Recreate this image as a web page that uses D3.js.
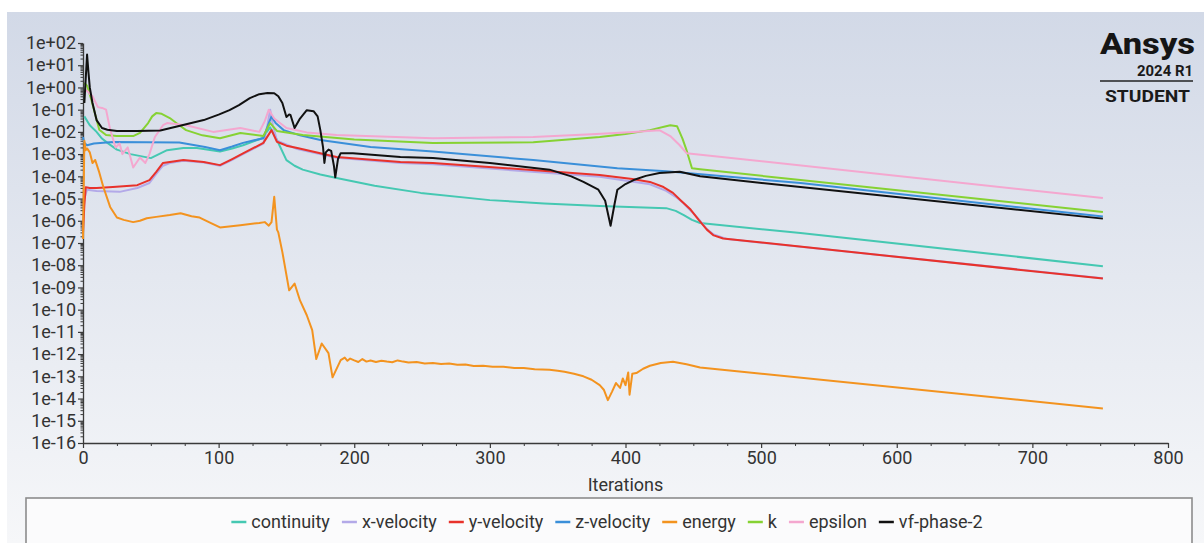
<!DOCTYPE html>
<html><head><meta charset="utf-8">
<script src="https://cdn.jsdelivr.net/npm/d3@7"></script>
<style>
html,body{margin:0;padding:0;background:#fff;}
svg{display:block;}
text{font-family:Roboto,"Noto Sans",sans-serif;}
</style></head>
<body>
<svg id="chart" width="1204" height="543"></svg>
<script>
// ---------------- DATA ----------------
const seriesNames = ["continuity","x-velocity","y-velocity","z-velocity","energy","k","epsilon","vf-phase-2"];
const seriesColors = ["#45c8b2","#b3a9e8","#e8322b","#3a8fd9","#f3931f","#86d233","#f4a7cf","#111111"];
const xTickValues = [0,100,200,300,400,500,600,700,800];
const yTickExponents = [2,1,0,-1,-2,-3,-4,-5,-6,-7,-8,-9,-10,-11,-12,-13,-14,-15,-16];

const continuity = [[1,5e-2],[5,2e-2],[10,1e-2],[14,5e-3],[18,3.2e-3],[25,1.6e-3],[35,1.0e-3],[50,6.6e-4],[56,1.0e-3],[62,1.5e-3],[74,1.9e-3],[84,1.9e-3],[101,1.3e-3],[110,1.8e-3],[118,2.5e-3],[132,5.2e-3],[138,1.6e-2],[143,4.3e-3],[150,5.4e-4],[156,3.0e-4],[162,2.0e-4],[175,1.2e-4],[187,8.5e-5],[215,3.8e-5],[249,1.8e-5],[300,8.5e-6],[340,6.0e-6],[381,4.6e-6],[430,3.7e-6],[437,2.8e-6],[443,1.8e-6],[449,1.1e-6],[455,7.9e-7],[529,2.8e-7],[752,9.1e-9]];

const xVelocity = [[1,1e-5],[3,2.5e-5],[10,2.2e-5],[27,2.0e-5],[40,3.0e-5],[49,5e-5],[54,1.3e-4],[59,3.0e-4],[64,4.0e-4],[74,5.0e-4],[89,4.2e-4],[101,3.0e-4],[110,5.5e-4],[118,1.0e-3],[133,3.0e-3],[136,2e-2],[138,0.1],[140,2e-2],[143,4e-3],[158,1.7e-3],[187,6.8e-4],[234,4.0e-4],[258,3.5e-4],[381,9.5e-5],[418,4.4e-5],[430,2.2e-5],[437,1.2e-5],[443,6e-6],[449,2.5e-6],[455,1.0e-6],[460,4.2e-7],[465,2.4e-7],[475,1.5e-7],[752,2.6e-9]];

const yVelocity = [[0,2.8e-7],[1,5e-6],[2,3.2e-5],[5,3e-5],[10,3.0e-5],[22,3.3e-5],[40,4.0e-5],[49,6.8e-5],[54,1.6e-4],[59,4.0e-4],[64,4.4e-4],[74,5.4e-4],[89,4.4e-4],[101,3.2e-4],[110,6.0e-4],[118,1.07e-3],[133,3.2e-3],[139,1.2e-2],[143,3.6e-3],[150,2.4e-3],[158,1.9e-3],[187,7.4e-4],[234,4.4e-4],[258,4.0e-4],[381,1.15e-4],[405,7.5e-5],[418,5.6e-5],[428,3.3e-5],[435,1.8e-5],[441,8e-6],[448,3.2e-6],[454,1.1e-6],[460,4.0e-7],[465,2.2e-7],[472,1.6e-7],[752,2.5e-9]];

const zVelocity = [[0,5.9e-3],[1,3.2e-3],[3,2.5e-3],[8,3.0e-3],[22,3.5e-3],[71,3.3e-3],[90,2.1e-3],[101,1.5e-3],[110,2.2e-3],[118,3.2e-3],[133,5.2e-3],[137,2.5e-2],[139,5e-2],[142,2.5e-2],[148,1.2e-2],[160,7.0e-3],[175,4.3e-3],[212,2.1e-3],[258,1.3e-3],[332,5.4e-4],[394,2.3e-4],[430,1.7e-4],[529,5.0e-5],[752,1.55e-6]];

const energy = [[0,1.5e-7],[1,4e-3],[2,1.5e-3],[3,1.8e-3],[5,1.2e-3],[7,4e-4],[9,5.4e-4],[12,1.5e-4],[15,3.3e-5],[20,4.2e-6],[25,1.4e-6],[30,1.1e-6],[37,8.7e-7],[42,1.0e-6],[47,1.3e-6],[54,1.5e-6],[64,1.8e-6],[72,2.2e-6],[80,1.6e-6],[86,1.4e-6],[94,8e-7],[101,5e-7],[116,6.3e-7],[130,8e-7],[134,8.7e-7],[137,6e-7],[139,8.7e-7],[141,1.2e-5],[143,4e-7],[144,3e-7],[147,3.9e-8],[152,7.4e-10],[156,1.5e-9],[160,2.6e-10],[165,5.6e-11],[169,1.2e-11],[172,6e-13],[176,3e-12],[181,1.1e-12],[184,9e-14],[190,5.4e-13],[193,7.0e-13],[195,5.0e-13],[197,6.3e-13],[200,5.2e-13],[203,4.4e-13],[206,6.0e-13],[209,4.6e-13],[212,5.2e-13],[216,4.4e-13],[220,5.0e-13],[224,4.6e-13],[228,4.3e-13],[232,5.2e-13],[236,4.6e-13],[240,4.2e-13],[246,4.4e-13],[252,3.8e-13],[258,4.0e-13],[264,3.6e-13],[270,3.8e-13],[276,3.3e-13],[282,3.4e-13],[288,2.9e-13],[295,3.0e-13],[302,2.7e-13],[310,2.7e-13],[318,2.4e-13],[325,2.4e-13],[333,2.1e-13],[344,2.0e-13],[350,1.8e-13],[355,1.6e-13],[362,1.3e-13],[369,1.0e-13],[375,7e-14],[381,4e-14],[384,2.5e-14],[387,8.5e-15],[390,2e-14],[393,5e-14],[396,3e-14],[398,8e-14],[400,4e-14],[402,1.5e-13],[403,1.5e-14],[405,1.3e-13],[408,1.4e-13],[413,2.2e-13],[418,3e-13],[426,4.0e-13],[435,4.5e-13],[445,3.5e-13],[455,2.5e-13],[752,3.6e-15]];

const kTurb = [[1,1.6],[3,1.2],[6,0.3],[9,0.06],[12,1.26e-2],[17,7.2e-3],[25,6.5e-3],[37,6.5e-3],[42,9.0e-3],[48,2.5e-2],[51,5e-2],[54,7.0e-2],[58,6.5e-2],[64,4.2e-2],[70,2.2e-2],[76,1.2e-2],[88,7.0e-3],[101,5.2e-3],[116,8.9e-3],[133,6.5e-3],[138,2.5e-2],[143,1.1e-2],[162,7.2e-3],[200,4.6e-3],[258,3.2e-3],[332,3.4e-3],[381,5.9e-3],[400,8.0e-3],[418,1.2e-2],[433,2.0e-2],[438,1.8e-2],[442,5e-3],[445,1.5e-3],[449,2.3e-4],[455,2.1e-4],[529,6.8e-5],[752,2.5e-6]];

const epsilon = [[2,0.8],[7,0.4],[11,0.13],[14,0.12],[17,0.1],[20,1.3e-2],[24,2.0e-3],[27,3.0e-3],[29,1.0e-3],[33,2.0e-3],[37,2.5e-4],[42,7e-4],[46,4e-4],[49,1.0e-3],[53,5.9e-3],[59,2.0e-2],[62,2.5e-2],[76,2.0e-2],[96,1.0e-2],[116,1.5e-2],[130,1.0e-2],[134,3e-2],[137,0.1],[141,4e-2],[150,1.5e-2],[165,9.5e-3],[187,7.2e-3],[258,5.2e-3],[332,5.9e-3],[375,7.8e-3],[406,1.0e-2],[425,1.2e-2],[433,6.5e-3],[440,2.5e-3],[445,1.1e-3],[752,1.05e-5]];

const vfPhase2 = [[1,0.2],[3,30],[4,5],[5,1.0],[7,0.2],[10,3.4e-2],[14,1.5e-2],[18,1.25e-2],[25,1.1e-2],[40,1.1e-2],[57,1.15e-2],[70,1.8e-2],[89,3.4e-2],[100,6e-2],[108,9.5e-2],[115,0.16],[123,0.33],[130,0.5],[136,0.56],[141,0.55],[144,0.4],[147,0.2],[150,4.7e-2],[152,6e-2],[153,5.8e-2],[156,1.5e-2],[160,4e-2],[165,9.5e-2],[170,8.5e-2],[173,5e-2],[175,1.2e-2],[177,2e-3],[178,4e-4],[179,1.2e-3],[181,1.6e-3],[183,1.4e-3],[185,3e-4],[186,9e-5],[188,6e-4],[190,1.1e-3],[199,1.1e-3],[234,7.4e-4],[258,6.6e-4],[300,4.0e-4],[344,2.0e-4],[360,1.0e-4],[369,5.6e-5],[380,2.5e-5],[385,8e-6],[389,6e-7],[392,6e-6],[394,2.5e-5],[400,4.5e-5],[406,6.8e-5],[415,1.05e-4],[425,1.4e-4],[440,1.6e-4],[455,1.0e-4],[529,3.3e-5],[752,1.25e-6]];

const allSeries = [continuity,xVelocity,yVelocity,zVelocity,energy,kTurb,epsilon,vfPhase2];

// ---------------- CHART ----------------
const svg = d3.select("#chart");
const W = 1204, H = 543;

const defs = svg.append("defs");
const grad = defs.append("linearGradient").attr("id","bg").attr("x1",0).attr("y1",0).attr("x2",0).attr("y2",1);
grad.append("stop").attr("offset","0%").attr("stop-color","#d2d9e7");
grad.append("stop").attr("offset","100%").attr("stop-color","#f6f7f9");
svg.append("rect").attr("x",0).attr("y",0).attr("width",W).attr("height",H).attr("fill","#ffffff");
svg.append("rect").attr("x",7).attr("y",12).attr("width",W-7).attr("height",H-12).attr("fill","url(#bg)");

const x = d3.scaleLinear().domain([0,800]).range([83,1168]);
const y = d3.scaleLog().domain([1e-16,1e2]).range([443,43]);

const axisColor = "#3a3a3a";
const fmtExp = v => {
  const e = Math.round(Math.log10(v));
  const s = e < 0 ? "-" : "+";
  const a = Math.abs(e);
  return "1e" + s + (a < 10 ? "0" + a : "" + a);
};

// minor y ticks
const yMinor = [];
for (let e = -16; e < 2; e++) for (let m = 2; m <= 9; m++) yMinor.push(m * Math.pow(10, e));
const gyMinor = svg.append("g").attr("transform","translate(83,0)")
  .call(d3.axisLeft(y).tickValues(yMinor).tickSize(2.5).tickFormat(""));
gyMinor.select(".domain").remove();
gyMinor.selectAll("line").attr("stroke",axisColor);

const gy = svg.append("g").attr("transform","translate(83,0)")
  .call(d3.axisLeft(y).tickValues(yTickExponents.map(e => Math.pow(10,e))).tickSize(5).tickSizeOuter(0).tickPadding(2).tickFormat(fmtExp));
gy.select(".domain").attr("stroke",axisColor).attr("stroke-width",1.3);
gy.selectAll("line").attr("stroke",axisColor).attr("stroke-width",1.2);
gy.selectAll("text").attr("fill","#333").attr("font-size","18px").attr("font-family","Roboto");

// x axis
const xMinor = d3.range(0, 801, 25).filter(v => v % 100 !== 0);
const gxMinor = svg.append("g").attr("transform","translate(0,443)")
  .call(d3.axisBottom(x).tickValues(xMinor).tickSize(3).tickFormat(""));
gxMinor.select(".domain").remove();
gxMinor.selectAll("line").attr("stroke",axisColor);

const gx = svg.append("g").attr("transform","translate(0,443)")
  .call(d3.axisBottom(x).tickValues(xTickValues).tickSize(5).tickSizeOuter(0).tickPadding(3).tickFormat(d3.format("d")));
gx.select(".domain").attr("stroke",axisColor).attr("stroke-width",1.3);
gx.selectAll("line").attr("stroke",axisColor).attr("stroke-width",1.2);
gx.selectAll("text").attr("fill","#333").attr("font-size","18px").attr("font-family","Roboto");

svg.append("text").attr("x",x(400)).attr("y",491).attr("text-anchor","middle")
  .attr("font-size","18px").attr("fill","#333").text("Iterations");

// lines
const line = d3.line().x(d => x(d[0])).y(d => y(d[1])).curve(d3.curveLinear);
const gl = svg.append("g");
allSeries.forEach((s,i) => {
  gl.append("path").datum(s).attr("d",line).attr("fill","none")
    .attr("stroke",seriesColors[i]).attr("stroke-width",2).attr("stroke-linejoin","round");
});

// Ansys logo
svg.append("text").attr("x",1195).attr("y",54).attr("text-anchor","end")
  .attr("font-family","Open Sans").attr("font-weight",800).attr("font-size","30px")
  .attr("fill","#151515").attr("textLength",95).attr("lengthAdjust","spacingAndGlyphs").text("Ansys");
svg.append("text").attr("x",1193).attr("y",76).attr("text-anchor","end")
  .attr("font-family","Open Sans").attr("font-weight",700).attr("font-size","14px")
  .attr("fill","#1a1a1a").attr("textLength",56).attr("lengthAdjust","spacingAndGlyphs").text("2024 R1");
svg.append("line").attr("x1",1100).attr("x2",1193).attr("y1",81).attr("y2",81)
  .attr("stroke","#222").attr("stroke-width",1.6);
svg.append("text").attr("x",1105).attr("y",102)
  .attr("font-family","Open Sans").attr("font-weight",700).attr("font-size","16px")
  .attr("fill","#1a1a1a").attr("textLength",85).attr("lengthAdjust","spacingAndGlyphs").text("STUDENT");

// legend
svg.append("rect").attr("x",26).attr("y",498).attr("width",1166).attr("height",70)
  .attr("fill","#fbfbfc").attr("stroke","#8c8c8c").attr("stroke-width",1.6);
const lg = svg.append("g");
let cx = 0;
const sw = 15, gap1 = 5, gap2 = 12;
seriesNames.forEach((n,i) => {
  const g = lg.append("g");
  g.append("line").attr("x1",0).attr("x2",sw).attr("y1",0).attr("y2",0)
    .attr("stroke",seriesColors[i]).attr("stroke-width",2.5);
  const t = g.append("text").attr("x",sw+gap1).attr("y",6).attr("font-size","18px").attr("fill","#333").text(n);
  const w = t.node().getComputedTextLength();
  g.attr("transform",`translate(${cx},522)`);
  cx += sw + gap1 + w + gap2;
});
const total = cx - gap2;
lg.attr("transform",`translate(${607 - total/2},0)`);
</script>
</body></html>
